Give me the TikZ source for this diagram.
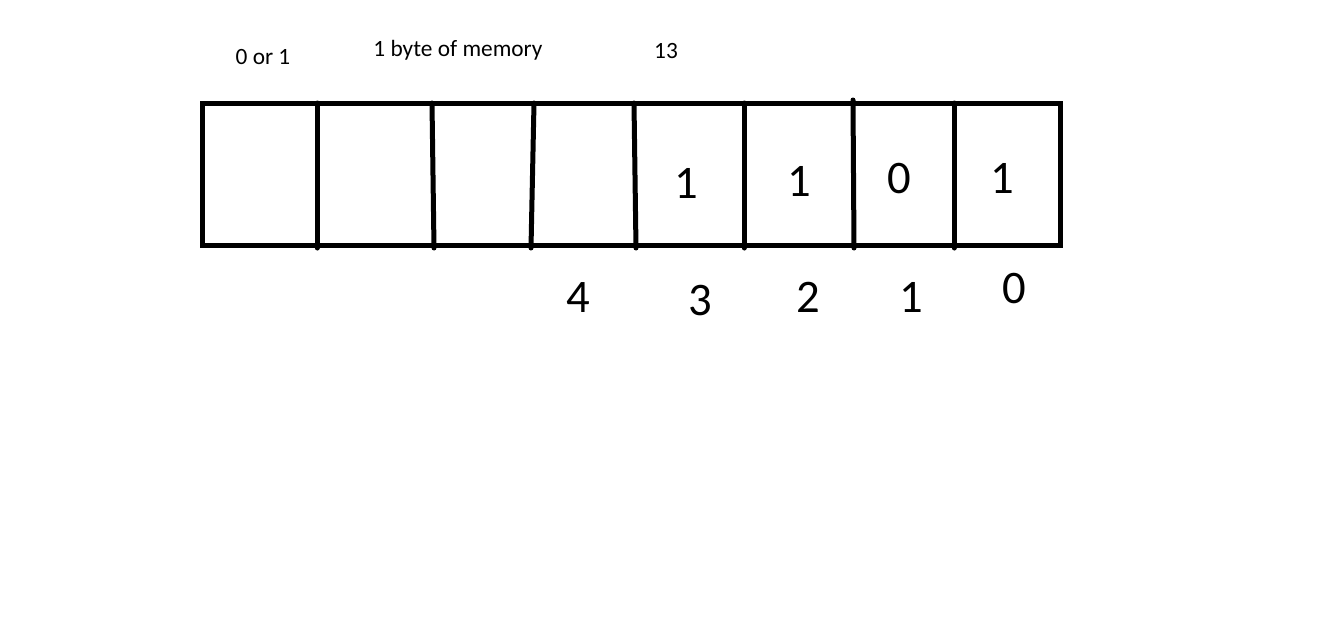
\documentclass[tikz,border=0pt]{standalone}
\usepackage{fontspec}
\setmainfont{Carlito}
\usepackage{tikz}

\begin{document}
\begin{tikzpicture}[x=0.75pt,y=-0.75pt,
        note/.style={font=\fontsize{17.5}{20}\selectfont,inner sep=0pt,anchor=base},
        digit/.style={font=\fontsize{35}{40}\selectfont,inner sep=0pt,anchor=base}]
        \useasboundingbox (0,0) rectangle (1340,622);
        % the byte
        \draw[line width=3.75pt] (202,103) rectangle (1060,245);
        \foreach \t/\b/\y in {317/317/103,432/434/103,534/531/103,634/636/103,744/744/103,853/854/100,954/954/103}{
            \draw[line width=3.75pt,line cap=round] (\t,\y) -- (\b,248);
        }
        % texts above
        \node[note] (bitnote) at (263,64) {0 or 1};
        \node[note] (bytenote) at (458,56) {1 byte of memory};
        \node[note] (value) at (666,58) {13};
        % bits in the cells
        \foreach \x/\y/\v [count=\i] in {686/198/1,799/196/1,899/193/0,1002/193/1}{
            \node[digit] (bit\i) at (\x,\y) {\v};
        }
        % positions below
        \foreach \x/\y/\p in {578/312/4,700/315/3,808/312/2,911/312/1,1014/303/0}{
            \node[digit] (pos\p) at (\x,\y) {\p};
        }
\end{tikzpicture}
\end{document}
